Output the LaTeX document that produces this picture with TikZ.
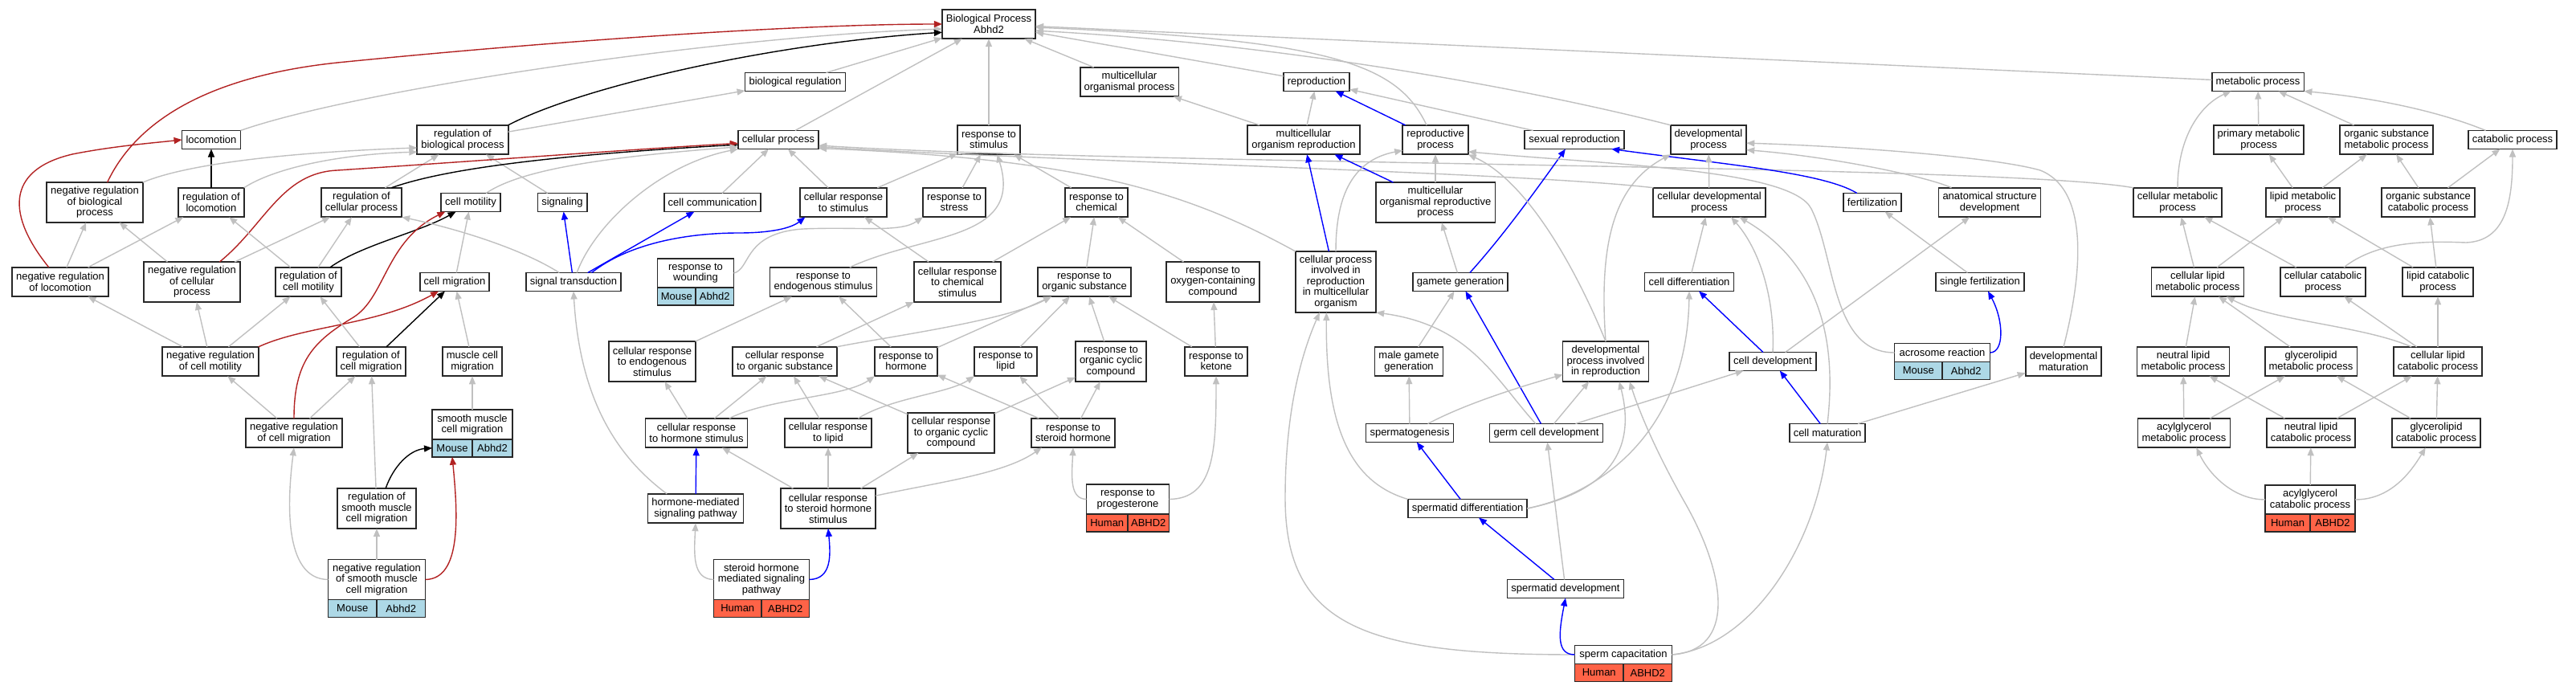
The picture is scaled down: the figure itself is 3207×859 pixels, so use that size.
\documentclass[tikz,border=0pt]{standalone}
\usepackage{fontspec}
\setmainfont{Liberation Sans}
\usetikzlibrary{arrows.meta}
\definecolor{edgegray}{RGB}{192,192,192}
\definecolor{boxgray}{RGB}{40,40,40}
\definecolor{negred}{RGB}{178,34,34}
\definecolor{mouseblue}{RGB}{173,216,230}
\definecolor{humanred}{RGB}{255,99,71}
\newcommand{\gofont}{\fontsize{13}{13.6}\selectfont}
\tikzset{
  t1/.style={draw=boxgray, line width=1.7pt, fill=white, align=center, font=\gofont, inner xsep=5pt, inner ysep=0pt, outer sep=0pt, minimum height=23pt},
  t2/.style={t1, minimum height=36.5pt},
  t3/.style={t1, minimum height=50pt},
  t5/.style={t1, minimum height=76pt},
  mouse/.style={t1, fill=mouseblue, minimum height=22pt, inner xsep=0pt},
  human/.style={t1, fill=humanred, minimum height=22pt, inner xsep=0pt},
  isa/.style={draw=edgegray, line width=1.4pt, -{Triangle[length=10pt,width=8pt]}},
  reg/.style={isa, draw=black},
  neg/.style={isa, draw=negred},
  partof/.style={isa, draw=blue}
}
\begin{document}
\begin{tikzpicture}[x=1pt,y=-1pt]
\useasboundingbox (0,0) rectangle (3207,859);

\node[t2] (bp) at (1231,30) {Biological Process\\Abhd2};
\node[t1] (bioreg) at (990,102) {biological regulation};
\node[t2] (mop) at (1406,102) {multicellular\\organismal process};
\node[t1] (repro) at (1639,102) {reproduction};
\node[t1] (metp) at (2811,102) {metabolic process};

\node[t1] (locomotion) at (263,174) {locomotion};
\node[t2] (regbio) at (576,174) {regulation of\\biological process};
\node[t1] (cp) at (969,174) {cellular process};
\node[t2] (rstim) at (1231,174) {response to\\stimulus};
\node[t2] (mor) at (1623,174) {multicellular\\organism reproduction};
\node[t2] (rp) at (1787,174) {reproductive\\process};
\node[t1] (sexrep) at (1960,174) {sexual reproduction};
\node[t2] (devp) at (2127,174) {developmental\\process};
\node[t2] (pmp) at (2812,174) {primary metabolic\\process};
\node[t2] (osmp) at (2971,174) {organic substance\\metabolic process};
\node[t1] (catp) at (3128,174) {catabolic process};

\node[t3] (negbio) at (118,252) {negative regulation\\of biological\\process};
\node[t2] (regloc) at (263,252) {regulation of\\locomotion};
\node[t2] (regcell) at (450,252) {regulation of\\cellular process};
\node[t1] (cmot) at (586,252) {cell motility};
\node[t1] (signaling) at (700,252) {signaling};
\node[t1] (ccom) at (887,252) {cell communication};
\node[t2] (crstim) at (1050,252) {cellular response\\to stimulus};
\node[t2] (rstress) at (1188,252) {response to\\stress};
\node[t2] (rchem) at (1365,252) {response to\\chemical};
\node[t3] (morp) at (1787,252) {multicellular\\organismal reproductive\\process};
\node[t2] (cdp) at (2128,252) {cellular developmental\\process};
\node[t1] (fert) at (2331,252) {fertilization};
\node[t2] (asd) at (2477,252) {anatomical structure\\development};
\node[t2] (cmp) at (2711,252) {cellular metabolic\\process};
\node[t2] (lmp) at (2867,252) {lipid metabolic\\process};
\node[t2] (oscp) at (3023,252) {organic substance\\catabolic process};

\node[t2] (negloc) at (75,351) {negative regulation\\of locomotion};
\node[t3] (negcell) at (239,351) {negative regulation\\of cellular\\process};
\node[t2] (regmot) at (384,351) {regulation of\\cell motility};
\node[t1] (cmig) at (566,351) {cell migration};
\node[t1] (sigtr) at (714,351) {signal transduction};
\node[t2, minimum width=95pt] (rwound) at (866,340) {response to\\wounding};
\node[mouse, minimum width=47.5pt, anchor=north west] (rwoundA) at (rwound.south west) {Mouse};
\node[mouse, minimum width=47.5pt, anchor=north east] (rwoundB) at (rwound.south east) {Abhd2};
\node[t2] (rendo) at (1025,351) {response to\\endogenous stimulus};
\node[t3] (crchem) at (1192,351) {cellular response\\to chemical\\stimulus};
\node[t2] (rorg) at (1350,351) {response to\\organic substance};
\node[t3] (roxy) at (1510,351) {response to\\oxygen-containing\\compound};
\node[t5] (cpir) at (1663,351) {cellular process\\involved in\\reproduction\\in multicellular\\organism};
\node[t1] (gamgen) at (1818,351) {gamete generation};
\node[t1] (celldiff) at (2103,351) {cell differentiation};
\node[t1] (sfert) at (2465,351) {single fertilization};
\node[t2] (clmp) at (2736,351) {cellular lipid\\metabolic process};
\node[t2] (ccp) at (2892,351) {cellular catabolic\\process};
\node[t2] (lcp) at (3035,351) {lipid catabolic\\process};

\node[t2] (negmot) at (262,450) {negative regulation\\of cell motility};
\node[t2] (regmig) at (462,450) {regulation of\\cell migration};
\node[t2] (mcmig) at (588,450) {muscle cell\\migration};
\node[t3] (crendo) at (812,450) {cellular response\\to endogenous\\stimulus};
\node[t2] (crorg) at (977,450) {cellular response\\to organic substance};
\node[t2] (rhorm) at (1128,450) {response to\\hormone};
\node[t2] (rlipid) at (1252,450) {response to\\lipid};
\node[t3] (rocc) at (1383,450) {response to\\organic cyclic\\compound};
\node[t2] (rket) at (1514,450) {response to\\ketone};
\node[t2] (mgg) at (1754,450) {male gamete\\generation};
\node[t3] (dpir) at (1999,450) {developmental\\process involved\\in reproduction};
\node[t1] (celldev) at (2207,450) {cell development};
\node[t1, minimum width=119pt] (acro) at (2418,439) {acrosome reaction};
\node[mouse, minimum width=59.5pt, anchor=north west] (acroA) at (acro.south west) {Mouse};
\node[mouse, minimum width=59.5pt, anchor=north east] (acroB) at (acro.south east) {Abhd2};
\node[t2] (devmat) at (2569,450) {developmental\\maturation};
\node[t2] (nlmp) at (2718,450) {neutral lipid\\metabolic process};
\node[t2] (glmp) at (2877,450) {glycerolipid\\metabolic process};
\node[t2] (clcp) at (3035,450) {cellular lipid\\catabolic process};

\node[t2] (negmig) at (366,539) {negative regulation\\of cell migration};
\node[t2, minimum width=100pt] (smcm) at (588,528.5) {smooth muscle\\cell migration};
\node[mouse, minimum width=50pt, anchor=north west] (smcmA) at (smcm.south west) {Mouse};
\node[mouse, minimum width=50pt, anchor=north east] (smcmB) at (smcm.south east) {Abhd2};
\node[t2] (crhorm) at (867,539) {cellular response\\to hormone stimulus};
\node[t2] (crlipid) at (1031,539) {cellular response\\to lipid};
\node[t3] (crocc) at (1184,539) {cellular response\\to organic cyclic\\compound};
\node[t2] (rster) at (1336,539) {response to\\steroid hormone};
\node[t1] (spgen) at (1755,539) {spermatogenesis};
\node[t1] (gcd) at (1925,539) {germ cell development};
\node[t1] (cmat) at (2275,539) {cell maturation};
\node[t2] (agmp) at (2719,539) {acylglycerol\\metabolic process};
\node[t2] (nlcp) at (2877,539) {neutral lipid\\catabolic process};
\node[t2] (glcp) at (3033,539) {glycerolipid\\catabolic process};

\node[t3] (regsmcm) at (469,633) {regulation of\\smooth muscle\\cell migration};
\node[t2] (hmsp) at (866,633) {hormone-mediated\\signaling pathway};
\node[t3] (crster) at (1031,633) {cellular response\\to steroid hormone\\stimulus};
\node[t2, minimum width=103pt] (rprog) at (1404,621.5) {response to\\progesterone};
\node[human, minimum width=51.5pt, anchor=north west] (rprogA) at (rprog.south west) {Human};
\node[human, minimum width=51.5pt, anchor=north east] (rprogB) at (rprog.south east) {ABHD2};
\node[t1] (sptdiff) at (1827,633) {spermatid differentiation};
\node[t2, minimum width=112pt] (agcp) at (2876,622) {acylglycerol\\catabolic process};
\node[human, minimum width=56pt, anchor=north west] (agcpA) at (agcp.south west) {Human};
\node[human, minimum width=56pt, anchor=north east] (agcpB) at (agcp.south east) {ABHD2};

\node[t3, minimum width=121pt] (negsmcm) at (469,721.5) {negative regulation\\of smooth muscle\\cell migration};
\node[mouse, minimum width=60.5pt, anchor=north west] (negsmcmA) at (negsmcm.south west) {Mouse};
\node[mouse, minimum width=60.5pt, anchor=north east] (negsmcmB) at (negsmcm.south east) {Abhd2};
\node[t3, minimum width=119pt] (shmsp) at (948,721.5) {steroid hormone\\mediated signaling\\pathway};
\node[human, minimum width=59.5pt, anchor=north west] (shmspA) at (shmsp.south west) {Human};
\node[human, minimum width=59.5pt, anchor=north east] (shmspB) at (shmsp.south east) {ABHD2};
\node[t1] (sptdev) at (1949,733) {spermatid development};
\node[t1, minimum width=121pt] (spcap) at (2021,815) {sperm capacitation};
\node[human, minimum width=60.5pt, anchor=north west] (spcapA) at (spcap.south west) {Human};
\node[human, minimum width=60.5pt, anchor=north east] (spcapB) at (spcap.south east) {ABHD2};

\draw[isa] (locomotion.north east) .. controls (450,110) and (900,45) .. (bp.186);
\draw[neg] (negbio.58) .. controls (170,150) and (260,95) .. (420,78) .. controls (700,50) and (1000,30) .. (bp.180);
\draw[reg] (regbio.north east) .. controls (720,110) and (950,55) .. (bp.190);
\draw[isa] (regbio) -- (bioreg);
\draw[isa] (bioreg) -- (bp);
\draw[isa] (cp) -- (bp);
\draw[isa] (rstim) -- (bp);
\draw[isa] (mop) -- (bp);
\draw[isa] (repro) -- (bp);
\draw[isa] (metp) -- (bp);
\draw[isa] (rp.121) .. controls (1740,80) and (1660,50) .. (bp.356);
\draw[isa] (devp.north west) .. controls (1900,110) and (1600,55) .. (bp.352);

\draw[reg] (regloc) -- (locomotion);
\draw[neg] (negloc.128) .. controls (10,270) and (5,212) .. (90,192) .. controls (140,182) and (190,178) .. (locomotion.west);
\draw[isa] (negbio.north east) .. controls (230,205) and (350,190) .. (regbio.190);
\draw[isa] (regloc.north east) .. controls (340,210) and (420,192) .. (regbio.195);
\draw[isa] (regcell) -- (regbio);
\draw[isa] (signaling) -- (regbio);
\draw[reg] (regcell.26) .. controls (540,215) and (650,195) .. (cp.187);
\draw[neg] (negcell.36) .. controls (330,280) and (350,215) .. (420,212) .. controls (600,200) and (800,185) .. (cp.185);
\draw[isa] (cmot.31) .. controls (650,210) and (760,195) .. (cp.190);
\draw[isa] (sigtr.70) .. controls (740,280) and (820,205) .. (cp.south west);
\draw[isa] (ccom) -- (cp);
\draw[isa] (crstim) -- (cp);
\draw[isa] (cpir.north west) .. controls (1480,240) and (1350,198) .. (cp.348);
\draw[isa] (cdp.north west) .. controls (1900,215) and (1300,200) .. (cp.350);
\draw[isa] (cmp.north west) .. controls (2500,205) and (1400,205) .. (cp.352);

\draw[reg] (regmot.34) .. controls (450,305) and (520,290) .. (cmot.212);
\draw[neg] (negmig.north) .. controls (366,450) and (390,425) .. (440,395) .. controls (480,370) and (480,300) .. (cmot.200);
\draw[isa] (cmig) -- (cmot);
\draw[neg] (negmot.north east) .. controls (380,405) and (470,405) .. (cmig.210);
\draw[reg] (regmig) -- (cmig);
\draw[isa] (mcmig) -- (cmig);
\draw[isa] (negcell) -- (regcell);
\draw[isa] (regmot) -- (regcell);
\draw[isa] (sigtr.147) .. controls (650,310) and (570,285) .. (regcell.south east);
\draw[isa] (negloc) -- (regloc);
\draw[isa] (regmot) -- (regloc);
\draw[isa] (negloc) -- (negbio);
\draw[isa] (negcell) -- (negbio);
\draw[isa] (negmot) -- (negloc);
\draw[isa] (negmot) -- (negcell);
\draw[isa] (negmot) -- (regmot);
\draw[isa] (regmig) -- (regmot);
\draw[isa] (negmig) -- (negmot);
\draw[isa] (negmig) -- (regmig);
\draw[isa] (smcm) -- (mcmig);
\draw[isa] (regsmcm) -- (regmig);
\draw[reg] (regsmcm.66) .. controls (490,580) and (510,560) .. (smcmA.west);
\draw[isa] (negsmcm) -- (regsmcm);
\draw[isa] (negsmcm.west) .. controls (352,721) and (358,620) .. (negmig.south);
\draw[neg] (negsmcm.east) .. controls (575,721) and (570,640) .. (smcmA.south);

\draw[partof] (sigtr) -- (signaling);
\draw[partof] (sigtr.33) -- (ccom.207);
\draw[partof] (sigtr.27) .. controls (780,305) and (850,290) .. (920,290) .. controls (960,290) and (985,284) .. (crstim.201);
\draw[isa] (hmsp.153) .. controls (770,570) and (722,500) .. (sigtr.south);

\draw[isa] (crstim) -- (rstim);
\draw[isa] (rstress) -- (rstim);
\draw[isa] (rchem) -- (rstim);
\draw[isa] (rendo.29) .. controls (1150,290) and (1275,300) .. (rstim.300);
\draw[isa] (rwound.east) .. controls (935,335) and (925,290) .. (1000,285) .. controls (1070,282) and (1120,290) .. (rstress.south west);
\draw[isa] (crchem) -- (rchem);
\draw[isa] (rorg) -- (rchem);
\draw[isa] (roxy) -- (rchem);
\draw[isa] (crchem) -- (crstim);

\draw[isa] (crendo) -- (rendo);
\draw[isa] (rhorm) -- (rendo);
\draw[isa] (crhorm) -- (crendo);
\draw[isa] (crhorm) -- (crorg);
\draw[isa] (crhorm.24) .. controls (960,495) and (1050,495) .. (rhorm.south west);
\draw[isa] (crorg) -- (crchem);
\draw[isa] (crorg.north east) .. controls (1100,420) and (1250,400) .. (rorg.204);
\draw[isa] (rhorm) -- (rorg);
\draw[isa] (rlipid) -- (rorg);
\draw[isa] (rocc) -- (rorg);
\draw[isa] (rket) -- (rorg);
\draw[isa] (rket) -- (roxy);
\draw[isa] (crlipid) -- (crorg);
\draw[isa] (crlipid.26) .. controls (1110,495) and (1180,490) .. (rlipid.south west);
\draw[isa] (crocc) -- (crorg);
\draw[isa] (crocc) -- (rocc);
\draw[isa] (rster) -- (rocc);
\draw[isa] (rster) -- (rhorm);
\draw[isa] (rster) -- (rlipid);
\draw[isa] (crster) -- (crhorm);
\draw[isa] (crster) -- (crlipid);
\draw[isa] (crster) -- (crocc);
\draw[isa] (crster.15) .. controls (1170,600) and (1250,590) .. (rster.205);
\draw[partof] (hmsp) -- (crhorm);
\draw[isa] (shmsp.west) .. controls (862,721) and (864,690) .. (hmsp.south);
\draw[partof] (shmsp.east) .. controls (1036,721) and (1034,690) .. (crster.south);
\draw[isa] (rprog.west) .. controls (1332,621) and (1334,595) .. (rster.south);
\draw[isa] (rprog.east) .. controls (1512,621) and (1514,560) .. (rket.south);

\draw[partof] (rp) -- (repro);
\draw[isa] (mor) -- (repro);
\draw[isa] (sexrep) -- (repro);
\draw[isa] (mor) -- (mop);
\draw[partof] (morp) -- (mor);
\draw[isa] (morp) -- (rp);
\draw[partof] (cpir) -- (mor);
\draw[isa] (cpir.north) .. controls (1663,250) and (1680,200) .. (rp.198);
\draw[isa] (gamgen) -- (morp);
\draw[partof] (gamgen.44) .. controls (1870,295) and (1910,240) .. (sexrep.226);
\draw[partof] (fert.149) .. controls (2270,215) and (2150,205) .. (sexrep.346);
\draw[partof] (gcd) -- (gamgen);
\draw[isa] (mgg) -- (gamgen);
\draw[isa] (spgen) -- (mgg);
\draw[isa] (spgen.27) .. controls (1820,505) and (1880,485) .. (dpir.197);
\draw[partof] (sptdiff) -- (spgen);
\draw[isa] (sptdiff.north west) .. controls (1680,600) and (1650,530) .. (cpir.253);
\draw[isa] (spcap.west) .. controls (1700,815) and (1600,780) .. (1600,620) .. controls (1600,500) and (1625,430) .. (cpir.242);
\draw[isa] (gcd.139) .. controls (1860,470) and (1830,405) .. (cpir.south east);
\draw[isa] (gcd) -- (dpir);
\draw[isa] (gcd) -- (celldev);
\draw[partof] (sptdev) -- (sptdiff);
\draw[isa] (sptdev) -- (gcd);
\draw[partof] (spcap.west) .. controls (1938,815) and (1940,790) .. (sptdev.south);
\draw[isa] (spcap.east) .. controls (2160,810) and (2150,720) .. (2100,630) .. controls (2060,560) and (2040,510) .. (dpir.320);
\draw[isa] (spcap.east) .. controls (2180,805) and (2260,680) .. (cmat.south);
\draw[isa] (sptdiff.east) .. controls (1990,615) and (2040,570) .. (dpir.304);
\draw[isa] (sptdiff.east) .. controls (1990,615) and (2100,540) .. (celldiff.south);
\draw[isa] (dpir.north) .. controls (1960,330) and (1900,225) .. (rp.south east);
\draw[isa] (dpir.north) .. controls (1990,300) and (2010,230) .. (devp.south west);
\draw[isa] (acro.west) .. controls (2280,439) and (2285,320) .. (2255,260) .. controls (2230,210) and (2000,205) .. (rp.340);

\draw[isa] (celldiff) -- (cdp);
\draw[isa] (celldev.north) .. controls (2210,370) and (2190,310) .. (cdp.326);
\draw[isa] (cmat.north) .. controls (2290,400) and (2250,320) .. (cdp.334);
\draw[partof] (celldev) -- (celldiff);
\draw[isa] (celldev) -- (asd);
\draw[partof] (cmat) -- (celldev);
\draw[isa] (cmat) -- (devmat);
\draw[isa] (cdp) -- (devp);
\draw[isa] (devmat.north) .. controls (2585,370) and (2610,240) .. (2540,212) .. controls (2480,195) and (2300,182) .. (devp.355);
\draw[isa] (asd.159) .. controls (2400,220) and (2280,195) .. (devp.345);
\draw[isa] (sfert) -- (fert);
\draw[partof] (acro.east) .. controls (2495,439) and (2495,400) .. (sfert.311);

\draw[isa] (pmp) -- (metp);
\draw[isa] (osmp) -- (metp);
\draw[isa] (catp.161) .. controls (3040,140) and (2960,122) .. (metp.south east);
\draw[isa] (cmp.north) .. controls (2711,170) and (2740,130) .. (metp.199);
\draw[isa] (lmp) -- (pmp);
\draw[isa] (lmp) -- (osmp);
\draw[isa] (oscp) -- (osmp);
\draw[isa] (oscp) -- (catp);
\draw[isa] (clmp) -- (cmp);
\draw[isa] (clmp) -- (lmp);
\draw[isa] (ccp) -- (cmp);
\draw[isa] (ccp.35) .. controls (2960,300) and (3020,300) .. (3070,302) .. controls (3120,300) and (3128,250) .. (catp.south);
\draw[isa] (lcp) -- (lmp);
\draw[isa] (lcp) -- (oscp);
\draw[isa] (nlmp) -- (clmp);
\draw[isa] (glmp) -- (clmp);
\draw[isa] (clcp.151) .. controls (2940,405) and (2830,400) .. (clmp.333);
\draw[isa] (clcp) -- (ccp);
\draw[isa] (clcp) -- (lcp);
\draw[isa] (agmp) -- (nlmp);
\draw[isa] (agmp) -- (glmp);
\draw[isa] (nlcp) -- (nlmp);
\draw[isa] (nlcp) -- (clcp);
\draw[isa] (glcp) -- (glmp);
\draw[isa] (glcp) -- (clcp);
\draw[isa] (agcp.west) .. controls (2780,622) and (2750,590) .. (agmp.310);
\draw[isa] (agcp) -- (nlcp);
\draw[isa] (agcp.east) .. controls (2975,622) and (3000,590) .. (glcp.234);
\end{tikzpicture}
\end{document}
